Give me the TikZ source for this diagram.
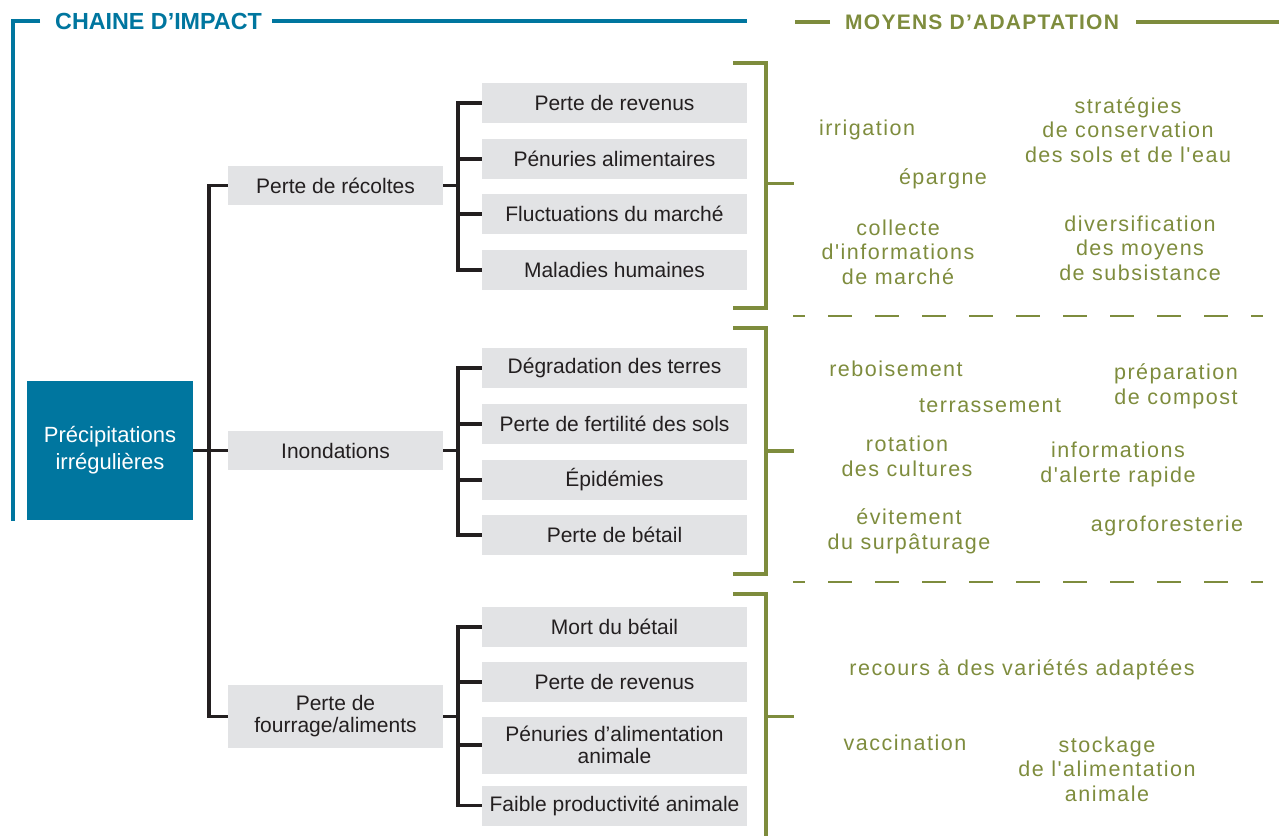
\documentclass[tikz,border=0pt]{standalone}
\usepackage{fontspec}
\setmainfont{Liberation Sans}
\newfontfamily\greenfont[LetterSpace=7]{Liberation Sans}
\newfontfamily\headcond{Liberation Sans}
\newfontfamily\headwide[LetterSpace=6]{Liberation Sans}
\definecolor{teal}{HTML}{00769F}
\definecolor{olive}{HTML}{7E8C3D}
\definecolor{boxgray}{HTML}{E2E3E5}
\definecolor{ink}{HTML}{231F20}
\tikzset{
  root/.style={fill=teal, text=white, minimum width=166pt, minimum height=139pt, align=center, inner sep=0pt, font=\fontsize{22}{27}\selectfont},
  midbox/.style={fill=boxgray, text=ink, minimum width=215pt, minimum height=39pt, align=center, inner sep=0pt, font=\fontsize{21}{22}\selectfont},
  childbox/.style={fill=boxgray, text=ink, minimum width=265pt, minimum height=40pt, align=center, inner sep=0pt, font=\fontsize{21}{22}\selectfont},
  link/.style={draw=ink, line width=3.5pt},
  gbr/.style={draw=olive, line width=3.5pt},
  gdash/.style={draw=olive, line width=2.2pt, dash pattern=on 24pt off 23pt, dash phase=12pt},
  adapt/.style={text=olive, align=center, inner sep=0pt, yshift=-2pt, font=\greenfont\fontsize{21.5}{24.5}\selectfont},
  headtxt/.style={inner sep=0pt, font=\bfseries\fontsize{21}{24}\selectfont},
}
\begin{document}
\begin{tikzpicture}[x=1pt,y=-1pt]
\useasboundingbox (0,0) rectangle (1279,836);

% headers
\node[headtxt, text=teal, anchor=west, font=\bfseries\fontsize{23.3}{24}\selectfont] (h1) at (55,21) {\headcond CHAINE D’IMPACT};
\node[headtxt, text=olive, anchor=west] (h2) at (845,22) {\headwide MOYENS D’ADAPTATION};
\coordinate (tl) at (13,21);
\coordinate (tb) at (13,521);
\coordinate (te) at (747,21);
\draw[draw=teal, line width=4.5pt] (h1.west) ++(-15,0) -- (tl) -- (tb);
\draw[draw=teal, line width=4.5pt] (h1.east) ++(10,0) -- (te);
\draw[draw=olive, line width=4pt] (h2.west) ++(-15,0) -- ++(-35,0);
\draw[draw=olive, line width=4pt] (h2.east) ++(17,0) -- (1279,22);

% root
\node[root] (root) at (110,450.5) {Précipitations\\irrégulières};

% middle level
\node[midbox] (m1) at (335.5,185.5) {Perte de récoltes};
\node[midbox] (m2) at (335.5,450.5) {Inondations};
\node[midbox, minimum height=63pt] (m3) at (335.5,716.5) {Perte de\\fourrage/aliments};

\coordinate (trunk) at (209,450.5);
\draw[link] (root.east) -- (m2.west);
\draw[link] (m1.west) -| (trunk) |- (m3.west);

% group 1
\node[childbox] (c11) at (614.5,103) {Perte de revenus};
\node[childbox] (c12) at (614.5,159) {Pénuries alimentaires};
\node[childbox] (c13) at (614.5,214) {Fluctuations du marché};
\node[childbox] (c14) at (614.5,270) {Maladies humaines};
\coordinate (b1) at (458,185.5);
\draw[link] (m1.east) -- (b1);
\draw[link] (c11.west) -| (b1) |- (c14.west);
\draw[link] (c12.west) -- (c12.west -| b1);
\draw[link] (c13.west) -- (c13.west -| b1);

% group 2
\node[childbox] (c21) at (614.5,368) {Dégradation des terres};
\node[childbox] (c22) at (614.5,424) {Perte de fertilité des sols};
\node[childbox] (c23) at (614.5,480) {Épidémies};
\node[childbox] (c24) at (614.5,535) {Perte de bétail};
\coordinate (b2) at (458,450.5);
\draw[link] (m2.east) -- (b2);
\draw[link] (c21.west) -| (b2) |- (c24.west);
\draw[link] (c22.west) -- (c22.west -| b2);
\draw[link] (c23.west) -- (c23.west -| b2);

% group 3
\node[childbox] (c31) at (614.5,627) {Mort du bétail};
\node[childbox] (c32) at (614.5,682) {Perte de revenus};
\node[childbox, minimum height=57pt] (c33) at (614.5,745) {Pénuries d’alimentation\\animale};
\node[childbox] (c34) at (614.5,805.5) {Faible productivité animale};
\coordinate (b3) at (458,716.5);
\draw[link] (m3.east) -- (b3);
\draw[link] (c31.west) -| (b3) |- (c34.west);
\draw[link] (c32.west) -- (c32.west -| b3);
\draw[link] (c33.west) -- (c33.west -| b3);

% green brackets
\draw[gbr] (733,63) -- (766,63) -- (766,308) -- (733,308);
\draw[gbr] (766,183.5) -- (794,183.5);
\draw[gbr] (733,328) -- (766,328) -- (766,574) -- (733,574);
\draw[gbr] (766,451) -- (794,451);
\draw[gbr] (733,594) -- (766,594) -- (766,836);
\draw[gbr] (766,716.5) -- (794,716.5);

% dashed separators
\draw[gdash] (793,316) -- (1263,316);
\draw[gdash] (793,582) -- (1263,582);

% adaptation measures, group 1
\node[adapt] (a1) at (867,128) {irrigation};
\node[adapt] (a2) at (1128,128) {stratégies\\de conservation\\des sols et de l'eau};
\node[adapt] (a3) at (943,177) {épargne};
\node[adapt] (a4) at (898,250) {collecte\\d'informations\\de marché};
\node[adapt] (a5) at (1140,246) {diversification\\des moyens\\de subsistance};

% group 2
\node[adapt] (a6) at (896,367) {reboisement};
\node[adapt] (a7) at (1176,384.5) {préparation\\de compost};
\node[adapt] (a8) at (990,404) {terrassement};
\node[adapt] (a9) at (907,454.5) {rotation\\des cultures};
\node[adapt] (a10) at (1118,462.5) {informations\\d'alerte rapide};
\node[adapt] (a11) at (909,529.5) {évitement\\du surpâturage};
\node[adapt] (a12) at (1167,524) {agroforesterie};

% group 3
\node[adapt] (a13) at (1022,668) {recours à des variétés adaptées};
\node[adapt] (a14) at (905,741) {vaccination};
\node[adapt] (a15) at (1107,767) {stockage\\de l'alimentation\\animale};
\end{tikzpicture}
\end{document}
